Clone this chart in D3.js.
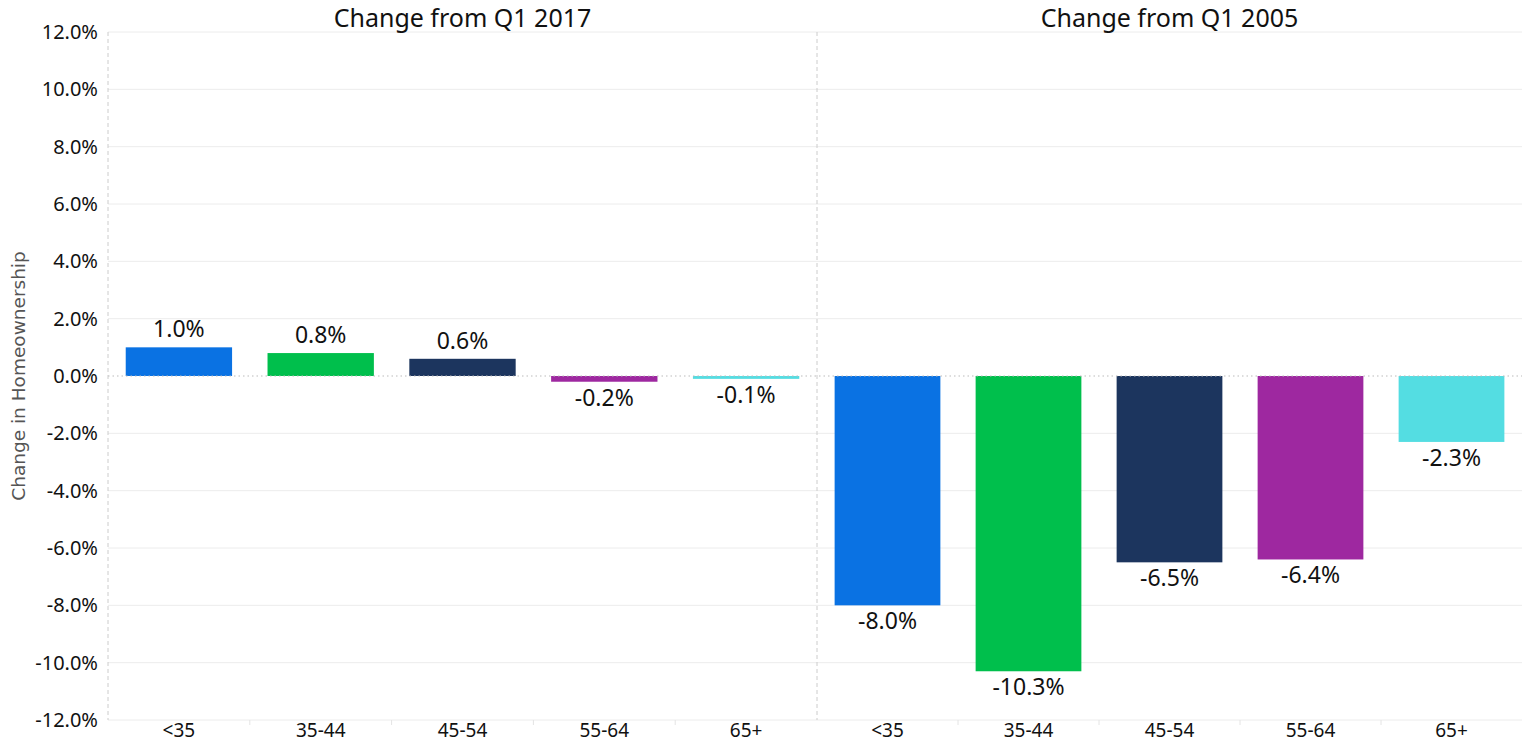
<!DOCTYPE html>
<html>
<head>
<meta charset="utf-8">
<script src="https://cdn.jsdelivr.net/npm/d3@7"></script>
<style>
  html, body { margin: 0; padding: 0; background: #fff; }
  svg { display: block; }
  .lbl { font-family: "Noto Sans", "Open Sans", sans-serif; fill: #111; }
</style>
</head>
<body>
<svg id="chart" width="1522" height="745"></svg>
<script>
// Age groups of the householder
const ageGroups = ["<35", "35-44", "45-54", "55-64", "65+"];
// Panel headings
const panelTitles = ["Change from Q1 2017", "Change from Q1 2005"];
// Change in homeownership rate (percentage points) per age group
const changeSince2017 = [1.0, 0.8, 0.6, -0.2, -0.1];
const changeSince2005 = [-8.0, -10.3, -6.5, -6.4, -2.3];
// Y axis ticks
const yTicks = [12, 10, 8, 6, 4, 2, 0, -2, -4, -6, -8, -10, -12];
// Colour per age group
const groupColors = ["#0A72E3", "#00BF4C", "#1C355E", "#9E28A0", "#54DDE2"];

const panelValues = [changeSince2017, changeSince2005];

const svg = d3.select("#chart");
const plotTop = 32, plotBottom = 720;
const panelEdges = [[108, 817], [817, 1522]];

const y = d3.scaleLinear().domain([12, -12]).range([plotTop, plotBottom]);
const color = d3.scaleOrdinal().domain(ageGroups).range(groupColors);
// Plain hyphen for negatives
const fmt = v => d3.format(".1f")(v).replace("\u2212", "-") + "%";

// Horizontal gridlines across both panels
svg.append("g").selectAll("line")
  .data(yTicks.filter(t => t !== 0))
  .join("line")
  .attr("x1", panelEdges[0][0]).attr("x2", panelEdges[1][1])
  .attr("y1", d => y(d)).attr("y2", d => y(d))
  .attr("stroke", "#ececec").attr("stroke-width", 1);

// Y axis labels
const yAxis = d3.axisLeft(y).tickValues(yTicks).tickFormat(fmt).tickSize(0).tickPadding(10);
const yg = svg.append("g").attr("transform", `translate(${panelEdges[0][0]},0)`).call(yAxis);
yg.select(".domain").remove();
yg.selectAll("text").attr("class", "lbl").attr("font-size", 20).attr("fill", "#111");

// Y axis title
svg.append("text")
  .attr("transform", `translate(25,${(y(12) + y(-12)) / 2}) rotate(-90)`)
  .attr("text-anchor", "middle")
  .attr("font-family", "'DejaVu Sans', sans-serif")
  .attr("font-size", 18.5).attr("fill", "#555")
  .text("Change in Homeownership");

panelEdges.forEach((edge, p) => {
  const x = d3.scaleBand().domain(ageGroups).range(edge).paddingInner(0.25).paddingOuter(0.125);
  const g = svg.append("g");

  // Panel title
  g.append("text").attr("class", "lbl")
    .attr("x", (edge[0] + edge[1]) / 2).attr("y", 27)
    .attr("text-anchor", "middle").attr("font-size", 25)
    .text(panelTitles[p]);

  const data = ageGroups.map((a, i) => ({ group: a, value: panelValues[p][i] }));

  // Bars
  g.selectAll("rect").data(data).join("rect")
    .attr("x", d => x(d.group))
    .attr("width", x.bandwidth())
    .attr("y", d => y(Math.max(0, d.value)))
    .attr("height", d => Math.abs(y(d.value) - y(0)))
    .attr("fill", d => color(d.group));

  // Value labels
  g.selectAll("text.val").data(data).join("text")
    .attr("class", "lbl val")
    .attr("x", d => x(d.group) + x.bandwidth() / 2)
    .attr("y", d => d.value >= 0 ? y(d.value) - 10 : y(d.value) + 24)
    .attr("text-anchor", "middle").attr("font-size", 23)
    .text(d => fmt(d.value));

  // Category axis
  const xAxis = d3.axisBottom(x).tickSize(0).tickPadding(3);
  const xg = g.append("g").attr("transform", `translate(0,${plotBottom})`).call(xAxis);
  xg.select(".domain").remove();
  xg.selectAll("text").attr("class", "lbl").attr("font-size", 19).attr("fill", "#111");

  // Small separators between categories
  g.selectAll("line.sep").data(ageGroups.slice(1)).join("line")
    .attr("class", "sep")
    .attr("x1", d => x(d) - x.step() * x.paddingInner() / 2)
    .attr("x2", d => x(d) - x.step() * x.paddingInner() / 2)
    .attr("y1", plotBottom).attr("y2", plotBottom + 5)
    .attr("stroke", "#e4e4e4");
});

// Zero line (dotted)
svg.append("line")
  .attr("x1", panelEdges[0][0]).attr("x2", panelEdges[1][1])
  .attr("y1", y(0)).attr("y2", y(0))
  .attr("stroke", "#bbb").attr("stroke-width", 1)
  .attr("stroke-dasharray", "1.5,3");

// Dashed vertical axis and panel divider
[panelEdges[0][0], panelEdges[1][0]].forEach(xv => {
  svg.append("line")
    .attr("x1", xv).attr("x2", xv)
    .attr("y1", plotTop).attr("y2", plotBottom)
    .attr("stroke", "#ccc").attr("stroke-width", 1)
    .attr("stroke-dasharray", "4,3");
});
</script>
</body>
</html>
